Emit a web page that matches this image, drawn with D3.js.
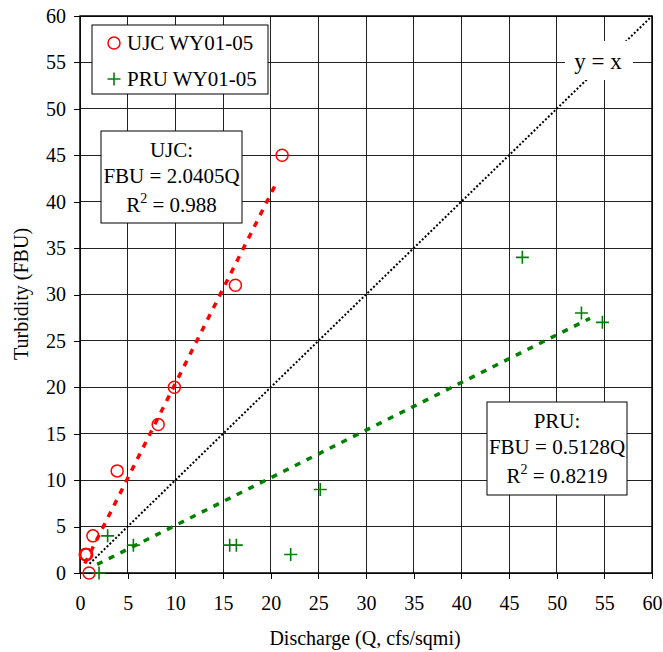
<!DOCTYPE html>
<html lang="en">
<head>
<meta charset="UTF-8">
<title>Turbidity vs Discharge</title>
<script src="https://d3js.org/d3.v7.min.js"></script>
<style>
body { margin: 0; background: white; }
svg text { font-family: "Liberation Serif", "Times New Roman", Times, "DejaVu Serif", serif; }
.grid line { stroke: #222; stroke-width: 1; shape-rendering: crispEdges; }
.axis path { display: none; }
.axis line { stroke: #000; shape-rendering: crispEdges; }
.axis text { font-size: 20px; fill: #000; }
.note text { font-size: 21px; }
</style>
</head>
<body>
<div id="chart"></div>
<script>

// ---- data ----
var ujcQ   = [21.2, 16.3, 9.9, 8.2, 3.9, 1.35, 0.55, 0.7, 0.65, 0.95];
var ujcFBU = [45,   31,   20,  16,  11,  4,    2,    2,   2,    0];

var pruQ   = [46.4, 52.6, 54.8, 25.2, 22.1, 16.4, 15.7, 5.6, 2.9, 2.0];
var pruFBU = [34,   28,   27,   9,    2,    3,    3,    3,   4,   0];

var ujcSlope = 2.0405, ujcFit = [0.5, 20.7];
var pruSlope = 0.5128, pruFit = [1.8, 53.5];
var oneToOne = [1, 60];

var ticks = d3.range(0, 61, 5);

// ---- size ----
var totalWidth = 663, totalHeight = 652;
var margin = {top: 16, right: 11, bottom: 79, left: 80};
var width = totalWidth - margin.left - margin.right;
var height = totalHeight - margin.top - margin.bottom;

var svg = d3.select("#chart").append("svg")
  .attr("width", totalWidth)
  .attr("height", totalHeight);

var x = d3.scaleLinear().domain([0, 60]).range([margin.left, margin.left + width]);
var y = d3.scaleLinear().domain([0, 60]).range([margin.top + height, margin.top]);

// ---- grid ----
var grid = svg.append("g").attr("class", "grid");
grid.selectAll(".v").data(ticks).join("line")
  .attr("x1", d => x(d)).attr("x2", d => x(d))
  .attr("y1", y(0)).attr("y2", y(60));
grid.selectAll(".h").data(ticks).join("line")
  .attr("class", "h")
  .attr("y1", d => y(d)).attr("y2", d => y(d))
  .attr("x1", x(0)).attr("x2", x(60));

// ---- axes ----
svg.append("g").attr("class", "axis")
  .attr("transform", `translate(0,${y(0)})`)
  .call(d3.axisBottom(x).tickValues(ticks).tickSize(6).tickPadding(17))
  .selectAll("text").attr("dy", "0.71em");

svg.append("g").attr("class", "axis")
  .attr("transform", `translate(${x(0)},0)`)
  .call(d3.axisLeft(y).tickValues(ticks).tickSize(6).tickPadding(8));

svg.append("rect")
  .attr("x", x(0)).attr("y", y(60))
  .attr("width", x(60) - x(0)).attr("height", y(0) - y(60))
  .attr("fill", "none").attr("stroke", "#000").attr("stroke-width", 1.5);

svg.append("text")
  .attr("x", 365).attr("y", 645)
  .attr("text-anchor", "middle").attr("font-size", 20)
  .text("Discharge (Q, cfs/sqmi)");

svg.append("text")
  .attr("transform", "translate(28,294) rotate(-90)")
  .attr("text-anchor", "middle").attr("font-size", 20)
  .text("Turbidity (FBU)");

// ---- y = x line ----
svg.append("line")
  .attr("x1", x(oneToOne[0])).attr("y1", y(oneToOne[0]))
  .attr("x2", x(oneToOne[1])).attr("y2", y(oneToOne[1]))
  .attr("stroke", "#000").attr("stroke-width", 2)
  .attr("stroke-dasharray", "2,2");

svg.append("rect")
  .attr("x", 565).attr("y", 41).attr("width", 68).attr("height", 39)
  .attr("fill", "white");
svg.append("text")
  .attr("x", 598).attr("y", 69)
  .attr("text-anchor", "middle").attr("font-size", 23)
  .text("y = x");

// ---- trend lines ----
function fitLine(range, slope, color) {
  svg.append("line")
    .attr("x1", x(range[0])).attr("y1", y(range[0] * slope))
    .attr("x2", x(range[1])).attr("y2", y(range[1] * slope))
    .attr("stroke", color).attr("stroke-width", 3.5)
    .attr("stroke-dasharray", "6,7");
}
fitLine(ujcFit, ujcSlope, "#ff0000");
fitLine(pruFit, pruSlope, "#008000");

// ---- markers ----
svg.append("g").selectAll("circle")
  .data(ujcQ.map((q, i) => [q, ujcFBU[i]]))
  .join("circle")
  .attr("cx", d => x(d[0])).attr("cy", d => y(d[1]))
  .attr("r", 6)
  .attr("fill", "none").attr("stroke", "#ff0000").attr("stroke-width", 1.5);

svg.append("g").selectAll("path")
  .data(pruQ.map((q, i) => [q, pruFBU[i]]))
  .join("path")
  .attr("transform", d => `translate(${x(d[0])},${y(d[1])})`)
  .attr("d", "M-6.5,0H6.5M0,-6.5V6.5")
  .attr("stroke", "#008000").attr("stroke-width", 1.6).attr("fill", "none");

// ---- legend ----
var legend = svg.append("g").attr("class", "note");
legend.append("rect")
  .attr("x", 92).attr("y", 25).attr("width", 176).attr("height", 69)
  .attr("fill", "white").attr("stroke", "#000").attr("stroke-width", 1);
legend.append("circle")
  .attr("cx", 114).attr("cy", 43).attr("r", 6)
  .attr("fill", "none").attr("stroke", "#ff0000").attr("stroke-width", 1.5);
legend.append("path")
  .attr("transform", "translate(114,79)")
  .attr("d", "M-6.5,0H6.5M0,-6.5V6.5")
  .attr("stroke", "#008000").attr("stroke-width", 1.6);
legend.append("text").attr("x", 127).attr("y", 50).text("UJC WY01-05");
legend.append("text").attr("x", 127).attr("y", 86).text("PRU WY01-05");

// ---- equation boxes ----
function eqBox(bx, by, bw, bh, lines) {
  var g = svg.append("g").attr("class", "note");
  g.append("rect")
    .attr("x", bx).attr("y", by).attr("width", bw).attr("height", bh)
    .attr("fill", "white").attr("stroke", "#000").attr("stroke-width", 1);
  var cx = bx + bw / 2;
  g.append("text").attr("x", cx).attr("y", by + 26).attr("text-anchor", "middle").text(lines[0]);
  g.append("text").attr("x", cx).attr("y", by + 52).attr("text-anchor", "middle").text(lines[1]);
  var t = g.append("text").attr("x", cx).attr("y", by + 81).attr("text-anchor", "middle");
  t.append("tspan").text("R");
  t.append("tspan").attr("dy", -9).attr("font-size", 14).text("2");
  t.append("tspan").attr("dy", 9).text(" = " + lines[2]);
}
eqBox(101, 131, 141, 92, ["UJC:", "FBU = " + ujcSlope + "Q", "0.988"]);
eqBox(487, 402, 140, 93, ["PRU:", "FBU = " + pruSlope + "Q", "0.8219"]);

</script>
</body>
</html>
